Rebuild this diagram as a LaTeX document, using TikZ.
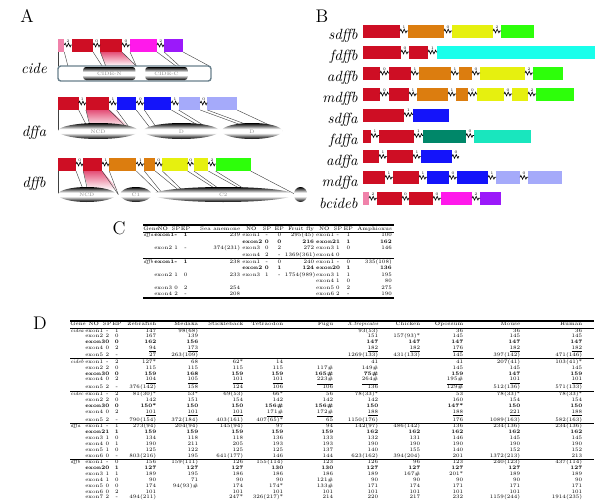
\documentclass[tikz,border=0pt]{standalone}
\usepackage{array,booktabs}
\usepackage{tikz}
\usetikzlibrary{decorations.pathmorphing}
\definecolor{exred}{RGB}{206,14,36}
\definecolor{expink}{RGB}{240,130,170}
\definecolor{exmag}{RGB}{255,25,235}
\definecolor{expur}{RGB}{155,25,250}
\definecolor{exorange}{RGB}{220,125,15}
\definecolor{exyellow}{RGB}{230,240,15}
\definecolor{exgreen}{RGB}{45,255,10}
\definecolor{excyan}{RGB}{25,255,235}
\definecolor{exblue}{RGB}{20,20,250}
\definecolor{exlav}{RGB}{165,170,250}
\definecolor{exteal}{RGB}{0,135,105}
\definecolor{exaqua}{RGB}{25,230,190}
\definecolor{gradpink}{RGB}{228,80,120}
\definecolor{frameblue}{RGB}{105,128,140}
\newlength\pxu
\setlength\pxu{0.025cm}
\newcolumntype{L}[1]{>{\raggedright\arraybackslash}p{#1\pxu}}
\newcolumntype{C}[1]{>{\centering\arraybackslash}p{#1\pxu}}
\newcolumntype{R}[1]{>{\raggedleft\arraybackslash}p{\dimexpr#1\pxu-2\pxu\relax}@{\hspace{2\pxu}}}
\setlength\tabcolsep{0pt}
\setlength\aboverulesep{0pt}
\setlength\belowrulesep{0pt}
\newcommand{\bv}[1]{\textbf{#1}}
\newcommand{\uv}[1]{\underline{#1}}
\pgfdeclareverticalshading{rimshade}{100bp}{color(0bp)=(black); color(25bp)=(black);
  color(33bp)=(black!60); color(44bp)=(white); color(56bp)=(white);
  color(66bp)=(black!55); color(75bp)=(black); color(100bp)=(black)}
\tikzset{
  panel/.style={font=\fontsize{13}{13}\selectfont, inner sep=0},
  genelbl/.style={font=\fontsize{10.5}{10.5}\selectfont\itshape, inner sep=0},
  intron/.style={decorate, decoration={zigzag, segment length=2.4pt, amplitude=1.3pt},
    line width=0.45pt},
  phase/.style={font=\fontsize{2.8}{2.8}\selectfont, inner sep=0},
  mapline/.style={draw=black!75, line width=0.3pt},
  domtext/.style={font=\fontsize{3.6}{3.6}\selectfont, text=black!45, inner sep=0},
  barframe/.style={draw=frameblue, line width=1pt, rounded corners=2pt, fill=white},
}
% one row of exons: top y, list of x1/x2/colour/phase of the intron before it
\newcommand{\exonrow}[2]{%
  \foreach \xa/\xb/\col/\ph [remember=\xb as \xp (initially -1)] in {#2}{
    \fill[\col] (\xa,#1) rectangle (\xb,#1+13);
    \ifnum\xp>-1
      \draw[intron] (\xp,#1+6) -- (\xa,#1+6);
      \node[phase] at ({(\xp+\xa)/2},#1+1.8) {\ph};
    \fi
  }}

\begin{document}
\begin{tikzpicture}[x=0.025cm, y=-0.025cm]
  \useasboundingbox (0,0) rectangle (600,500);

  % A: human genes, exons over protein domains
  \node[panel] (la) at (27,16) {A};
  \node[genelbl] (gcide) at (34,68) {cide};
  \node[genelbl] (gdffa) at (34,133) {dffa};
  \node[genelbl] (gdffb) at (34,184) {dffb};
  \begin{scope}[xshift=28.3\pxu, xscale=0.9]
  % cide
  \shade[top color=gradpink, bottom color=white] (80,52) -- (104,52) -- (120,66) -- (86,66) -- cycle;
  \foreach \u/\v in {33/33, 40/44, 72/82, 80/86, 104/120, 113/120, 143/164, 151/168, 172/201}
    \draw[mapline] (\u,52) -- (\v,66);
  \exonrow{39}{33/40/expink/0, 48/72/exred/2, 80/104/exred/0, 113/143/exmag/0, 151/172/expur/2}
  \draw[barframe] (33,66) rectangle (203,81);
  \shade[shading=rimshade, rounded corners=2pt] (61,67) rectangle (119,80);
  \shade[shading=rimshade, rounded corners=2pt] (130,67) rectangle (177,80);
  \node[domtext] at (90,73.5) {CIDE-N};
  \node[domtext] at (153.5,73.5) {CIDE-C};

  % dffa
  \shade[top color=gradpink, bottom color=white] (64,110) -- (90,110) -- (113,128) -- (70,128) -- cycle;
  \foreach \u/\v in {33/33, 56/68, 64/70, 90/113, 98/115, 120/138, 129/145, 159/200, 167/205, 191/255, 199/262, 232/282}
    \draw[mapline] (\u,110) -- (\v,131);
  \exonrow{97}{33/56/exred/0, 64/90/exred/1, 98/120/exblue/1, 129/159/exblue/0, 167/191/exlav/1, 199/232/exlav/0}
  \shade[shading=rimshade] (77.5,131) ellipse [x radius=44.5\pxu, y radius=8\pxu];
  \shade[shading=rimshade] (170,131) ellipse [x radius=42\pxu, y radius=8\pxu];
  \shade[shading=rimshade] (248.5,131) ellipse [x radius=33.5\pxu, y radius=8\pxu];
  \node[domtext] at (77.5,131.5) {NCD};
  \node[domtext] at (170,131.5) {D};
  \node[domtext] at (248.5,131.5) {D};

  % dffb
  \shade[top color=gradpink, bottom color=white] (61,171) -- (82,171) -- (100,190) -- (67,190) -- cycle;
  \foreach \u/\v in {33/33, 53/63, 61/67, 82/100, 90/100, 120/147, 129/150, 141/173, 149/176, 177/218, 184/221, 200/247, 208/250, 247/297}
    \draw[mapline] (\u,171) -- (\v,194.5);
  \exonrow{158}{33/53/exred/0, 61/82/exred/0, 90/120/exorange/1, 129/141/exorange/1, 149/177/exyellow/0, 184/200/exyellow/0, 208/247/exgreen/2}
  \shade[shading=rimshade] (65,194.5) ellipse [x radius=32\pxu, y radius=7.5\pxu];
  \shade[shading=rimshade] (119.5,194.5) ellipse [x radius=17.5\pxu, y radius=7.5\pxu];
  \shade[shading=rimshade] (216.5,194.5) ellipse [x radius=77.5\pxu, y radius=7.5\pxu];
  \shade[shading=rimshade] (302.5,194.5) ellipse [x radius=7.5\pxu, y radius=7.5\pxu];
  \node[domtext] at (65,195) {NCD};
  \node[domtext] at (119.5,195) {C1};
  \node[domtext] at (216.5,195) {C2};
  \end{scope}

  % B: exon maps of the other species
  \node[panel] (lb) at (322,16.5) {B};
  \node[genelbl, anchor=east] (gsdffb) at (358,36) {sdffb};
  \exonrow{25}{363/400/exred/0, 408/444/exorange/1, 452/493/exyellow/0, 501/534/exgreen/2}
  \node[genelbl, anchor=east] (gfdffb) at (358,57) {fdffb};
  \exonrow{46}{363/401/exred/0, 409/428/exred/0, 437/595/excyan/1}
  \node[genelbl, anchor=east] (gadffb) at (358,78) {adffb};
  \exonrow{67}{363/380/exred/0, 389/411/exred/0, 419/451/exorange/1, 459/472/exorange/1, 480/525/exyellow/0, 533/563/exgreen/2}
  \node[genelbl, anchor=east] (gmdffb) at (358,99) {mdffb};
  \exonrow{88}{363/380/exred/0, 389/409/exred/0, 417/448/exorange/1, 456/468/exorange/1, 477/504/exyellow/0, 512/528/exyellow/0, 536/574/exgreen/2}
  \node[genelbl, anchor=east] (gsdffa) at (358,119.5) {sdffa};
  \exonrow{108.6}{363/404/exred/0, 413/449/exblue/1}
  \node[genelbl, anchor=east] (gfdffa) at (358,140.5) {fdffa};
  \exonrow{129.5}{363/371/exred/0, 379/414/exred/1, 423/466/exteal/1, 474/531/exaqua/0}
  \node[genelbl, anchor=east] (gadffa) at (358,161.5) {adffa};
  \exonrow{150.4}{363/379/exred/0, 387/413/exred/1, 421/452/exblue/1}
  \draw[intron] (452,156.4) -- (459,156.4);
  \node[phase] at (456,152.2) {0};
  \node[genelbl, anchor=east] (gmdffa) at (358,182.5) {mdffa};
  \exonrow{171.3}{363/385/exred/0, 393/419/exred/1, 427/449/exblue/1, 457/488/exblue/0, 496/520/exlav/1, 528/562/exlav/0}
  \node[genelbl, anchor=east] (gbcideb) at (358,203.5) {bcideb};
  \exonrow{192.2}{363/369/expink/0, 377/402/exred/2, 409/433/exred/0, 441/472/exmag/0, 480/501/expur/2}

  % C: invertebrate comparison
  \node[panel] (lc) at (119,228) {C};
  \node[anchor=north west, inner sep=0] (tabc) at (143,224) {\fontsize{3.7}{4.55}\selectfont
    \begin{tabular}{@{}L{11}C{17}C{9.5}C{9.5}R{52}C{18}C{13.3}C{11.4}R{31.2}C{16.1}C{11.4}C{9.5}R{40.7}@{}}
    \toprule[1pt]
    Gene & NO & SP & EP & Sea anemone & NO & SP & EP & \mbox{Fruit fly} & NO & SP & EP & Amphioxus\\
    \midrule[0.3pt]
    \textit{dffa} & \bv{exon1} & \bv{-} & \bv{1} & 239 & exon1 & - & 0 & 295(45) & exon1 & - & 1 & 100\\
     &&&&& \bv{exon2} & \bv{0} & \bv{0} & \bv{216} & \bv{exon2} & \bv{1} & \bv{1} & \bv{162}\\
     & exon2 & 1 & - & 374(231) & exon3 & 0 & 2 & 272 & exon3 & 1 & 0 & 146\\
     &&&&& exon4 & 2 & - & 1369(361) & exon4 & 0 && \\
    \specialrule{0.7pt}{0pt}{0pt}
    \textit{dffb} & \bv{exon1} & \bv{-} & \bv{1} & 238 & exon1 & - & 0 & 240 & exon1 & - & 0 & 335(108)\\
     &&&&& \bv{exon2} & \bv{0} & \bv{1} & \bv{124} & \bv{exon2} & \bv{0} & \bv{1} & \bv{136}\\
     & exon2 & 1 & 0 & 233 & exon3 & 1 & - & 1754(989) & exon3 & 1 & 1 & 195\\
     &&&&&&&&& exon4 & 1 & 0 & 80\\
     & exon3 & 0 & 2 & 254 &&&&& exon5 & 0 & 2 & 275\\
     & exon4 & 2 & - & 208 &&&&& exon6 & 2 & - & 190\\
    \bottomrule[1pt]
    \end{tabular}};

  % D: vertebrate comparison
  \node[panel] (ld) at (40,323) {D};
  \node[anchor=north west, inner sep=0] (tabd) at (70,320) {\fontsize{3.7}{4.15}\selectfont
    \begin{tabular}{@{}L{15}C{17}C{10}C{9}R{37}R{42}R{45}R{40}R{50}R{45}R{42}R{43}R{57}R{62}@{\hspace{10\pxu}}}
    \toprule[1pt]
    Gene & NO & SP & EP & Zebrafish & Medaka & Stickleback & Tetraodon & Fugu & \textit{X.tropicalis} & Chicken & Opossum & Mouse & Human\\
    \midrule[0.3pt]
    \textit{cidea} & exon1 & - & 1 & 147 & 98(68) &&&& 93(53) && 36 & 36 & 36\\
     & exon2 & 2 & 0 & 167 & 139 &&&& 151 & 157(93)* & 145 & 145 & 145\\
     & \bv{exon3} & \bv{0} & \bv{0} & \bv{162} & \bv{156} &&&& \bv{147} & \bv{147} & \bv{147} & \bv{147} & \bv{147}\\
     & exon4 & 0 & 2 & \uv{94} & \uv{173} &&&& \uv{182} & \uv{182} & \uv{176} & \uv{182} & \uv{182}\\
     & exon5 & 2 & - & 27 & 263(109) &&&& 1269(133) & 431(133) & 145 & 397(142) & 471(146)\\
    \specialrule{0.7pt}{0pt}{0pt}
    \textit{cideb} & exon1 & - & 2 & 127* & 68 & 62* & 14 && 41 && 41 & 207(41) & 103(41)*\\
     & exon2 & 2 & 0 & 115 & 115 & 115 & 115 & 117\# & 149\# && 145 & 145 & 145\\
     & \bv{exon3} & \bv{0} & \bv{0} & \bv{159} & \bv{168} & \bv{159} & \bv{159} & \bv{165\#} & \bv{75\#} && \bv{159} & \bv{147} & \bv{159}\\
     & exon4 & 0 & 2 & \uv{104} & \uv{105} & \uv{101} & \uv{101} & \uv{223\#} & \uv{264\#} && \uv{195\#} & \uv{101} & \uv{101}\\
     & exon5 & 2 & - & 376(142) & 158 & 124 & 106 & 106 & 136 && 129\# & 512(136) & 571(133)\\
    \specialrule{0.7pt}{0pt}{0pt}
    \textit{cidec} & exon1 & - & 2 & 81(30)* & 53* & 69(53) & 66* & 56 & 78(33)* && 53 & 78(33)* & 78(33)*\\
     & exon2 & 2 & 0 & 142 & 151 & 154 & 142 & 142 & 142 && 160 & 154 & 154\\
     & \bv{exon3} & \bv{0} & \bv{0} & \bv{150*} & \bv{150} & \bv{150} & \bv{156\#} & \bv{156\#} & \bv{150} && \bv{147*} & \bv{150} & \bv{150}\\
     & exon4 & 0 & 2 & \uv{101} & \uv{101} & \uv{101} & \uv{171\#} & \uv{172\#} & \uv{188} && \uv{188} & \uv{221} & \uv{188}\\
     & exon5 & 2 & - & 790(154) & 372(184) & 403(161) & 407(65)* & 65 & 1150(176) && 176 & 1089(163) & 582(163)\\
    \specialrule{0.7pt}{0pt}{0pt}
    \textit{dffa} & exon1 & - & 1 & 273(94) & 204(94) & 145(94) & 97 & 94 & 142(97) & 486(142) & 136 & 234(136) & 234(136)\\
     & \bv{exon2} & \bv{1} & \bv{1} & \bv{159} & \bv{159} & \bv{159} & \bv{159} & \bv{159} & \bv{162} & \bv{162} & \bv{162} & \bv{162} & \bv{162}\\
     & exon3 & 1 & 0 & 134 & 118 & 118 & 136 & 133 & 132 & 131 & 146 & 145 & 145\\
     & exon4 & 0 & 1 & 190 & 211 & 205 & 193 & 193 & 190 & 190 & 190 & 190 & 190\\
     & exon5 & 1 & 0 & 125 & 122 & 125 & 125 & 137 & 140 & 155 & 140 & 152 & 152\\
     & exon6 & 0 & - & 803(216) & 195 & 641(177) & 146 & 144 & 623(162) & 394(204) & 201 & 1372(213) & 213\\
    \specialrule{0.7pt}{0pt}{0pt}
    \textit{dffb} & exon1 & - & 0 & 156 & 159(111) & 126 & 155(114) & 123 & 126 & 96 & 123 & 240(123) & 437(114)\\
     & \bv{exon2} & \bv{0} & \bv{1} & \bv{127} & \bv{127} & \bv{127} & \bv{130} & \bv{130} & \bv{127} & \bv{127} & \bv{127} & \bv{127} & \bv{127}\\
     & exon3 & 1 & 1 & 189 & 195 & 186 & 186 & 186 & 189 & 167\# & 201* & 189 & 189\\
     & exon4 & 1 & 0 & 90 & 71 & 90 & 90 & 121\# & 90 & 90 & 90 & 90 & 90\\
     & exon5 & 0 & 0 & 174 & 94(93)\# & 174 & 174* & 133\# & 171 & 174 & 171 & 171 & 171\\
     & exon6 & 0 & 2 & 101 && 101 & 101 & 101 & 101 & 101 & 101 & 101 & 101\\
     & exon7 & 2 & - & 494(211) && 247* & 326(217)* & 214 & 220 & 217 & 232 & 1159(244) & 1914(235)\\
    \bottomrule[1pt]
    \end{tabular}};
\end{tikzpicture}
\end{document}
